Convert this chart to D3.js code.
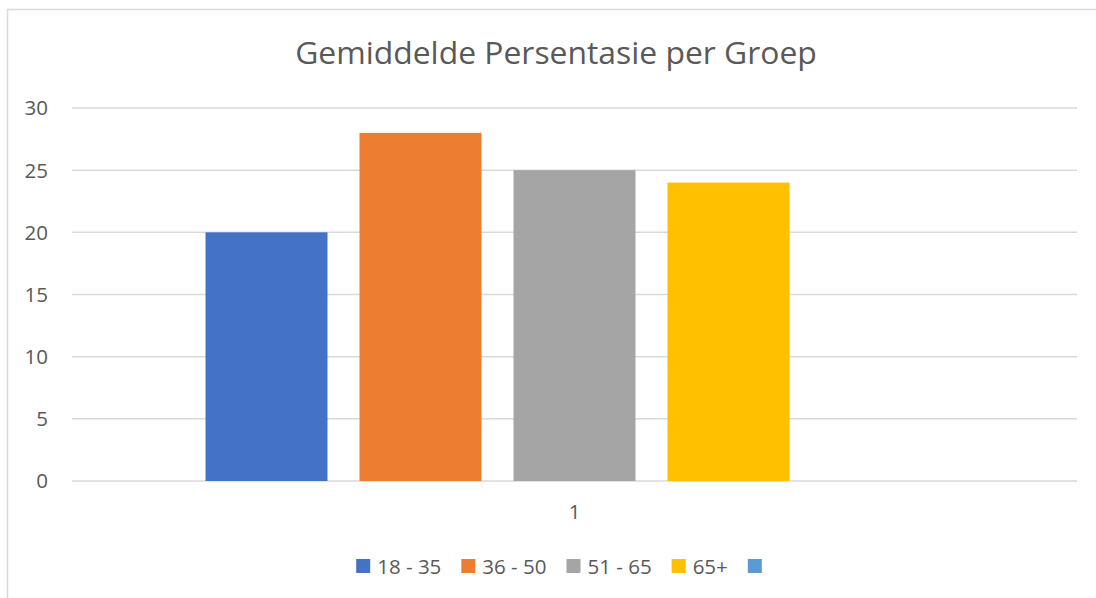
<!DOCTYPE html>
<html>
<head>
<meta charset="utf-8">
<script src="https://cdn.jsdelivr.net/npm/d3@7"></script>
<style>
  html, body { margin: 0; padding: 0; background: #fff; }
  svg { display: block; }
  text { font-family: "Open Sans", sans-serif; fill: #595959; }
</style>
</head>
<body>
<svg id="chart" width="1096" height="598"></svg>
<script>
const title = "Gemiddelde Persentasie per Groep";
const categories = ["1"];
const seriesNames = ["18 - 35", "36 - 50", "51 - 65", "65+", ""];
const seriesValues = [20, 28, 25, 24, null];
const seriesColors = ["#4472C4", "#ED7D31", "#A5A5A5", "#FFC000", "#5B9BD5"];
const yTicks = [0, 5, 10, 15, 20, 25, 30];

const svg = d3.select("#chart");
const plot = { left: 72, right: 1077, top: 108, bottom: 481 };
const FS = 20.5;

// chart area border
svg.append("rect")
  .attr("x", 7.5).attr("y", 9.5)
  .attr("width", 1200).attr("height", 700)
  .attr("fill", "none").attr("stroke", "#D9D9D9").attr("stroke-width", 1.5);

// title
const t = svg.append("text")
  .attr("x", 556).attr("y", 64)
  .attr("text-anchor", "middle")
  .style("font-size", "30px")
  .text(title);
const tw = t.node().getComputedTextLength();
t.style("font-size", (30 * 522 / tw) + "px");

const y = d3.scaleLinear().domain([0, 30]).range([plot.bottom, plot.top]);
const x0 = d3.scaleBand().domain(categories).range([plot.left, plot.right]).padding(0);
const x1 = d3.scaleBand().domain(seriesNames.map((d, i) => i))
  .range([0, x0.bandwidth()])
  .paddingInner(0.2078).paddingOuter(0.867);

// gridlines
svg.append("g").selectAll("line").data(yTicks).join("line")
  .attr("x1", plot.left).attr("x2", plot.right)
  .attr("y1", d => y(d)).attr("y2", d => y(d))
  .attr("stroke", "#D9D9D9").attr("stroke-width", 1.5);

// y axis labels
const yAxis = d3.axisLeft(y).tickValues(yTicks).tickSize(0).tickPadding(0);
const gy = svg.append("g").attr("transform", `translate(48,0)`).call(yAxis);
gy.select(".domain").remove();
gy.selectAll("text").style("font-size", FS + "px").attr("fill", "#595959")
  .style("font-family", '"Open Sans", sans-serif').attr("dy", "0.34em");

// bars
const rows = categories.map(c => ({ cat: c, vals: seriesValues.map((v, i) => ({ i, v })) }));
svg.append("g").selectAll("g").data(rows).join("g")
  .attr("transform", d => `translate(${x0(d.cat)},0)`)
  .selectAll("rect").data(d => d.vals.filter(e => e.v != null)).join("rect")
  .attr("x", d => x1(d.i))
  .attr("width", x1.bandwidth())
  .attr("y", d => y(d.v))
  .attr("height", d => y(0) - y(d.v))
  .attr("fill", d => seriesColors[d.i]);

// x axis
const xAxis = d3.axisBottom(x0).tickSize(0).tickPadding(0);
const gx = svg.append("g").attr("transform", `translate(0,${plot.bottom + 23})`).call(xAxis);
gx.select(".domain").remove();
gx.selectAll("text").style("font-size", FS + "px").attr("fill", "#595959")
  .style("font-family", '"Open Sans", sans-serif');

// legend
const legend = svg.append("g");
const items = legend.selectAll("g").data(seriesNames).join("g");
items.append("rect").attr("width", 14).attr("height", 14).attr("y", 559)
  .attr("fill", (d, i) => seriesColors[i]);
items.append("text").attr("x", 21).attr("y", 573.5)
  .style("font-size", FS + "px").text(d => d);
let pos = 0;
const offsets = [];
items.each(function (d) {
  const w = d3.select(this).select("text").node().getComputedTextLength();
  offsets.push(pos);
  pos += 14 + (d ? 7 + w : 0) + 20;
});
const total = pos - 20;
const start = 559 - total / 2;
items.attr("transform", (d, i) => `translate(${start + offsets[i]},0)`);
</script>
</body>
</html>
